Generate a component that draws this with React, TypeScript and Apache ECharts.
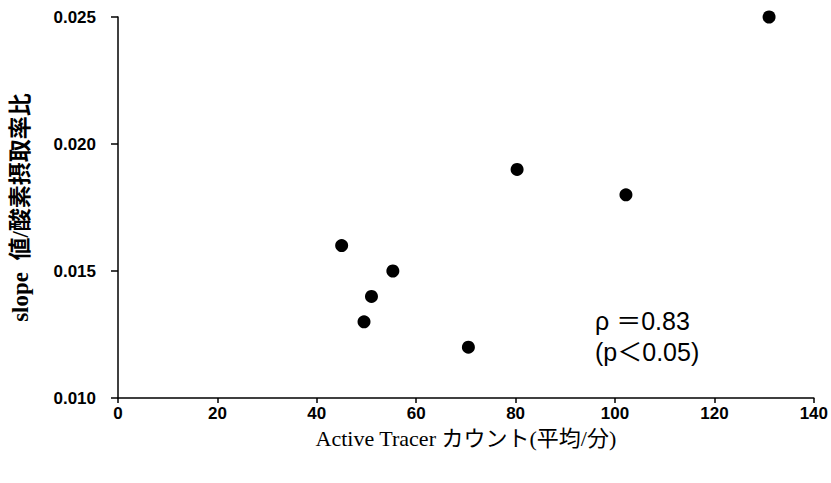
import React, { useEffect, useRef } from "react";
import * as echarts from "echarts";

const xValues = [45, 49.5, 51, 55.3, 70.5, 80.3, 102.2, 131];
const yValues = [0.016, 0.013, 0.014, 0.015, 0.012, 0.019, 0.018, 0.025];
const xTicks = [0, 20, 40, 60, 80, 100, 120, 140];
const yTicks = [0.01, 0.015, 0.02, 0.025];
const annotationLines = ["ρ ＝0.83", "(p＜0.05)"];

export default function App() {
  const ref = useRef<HTMLDivElement>(null);
  useEffect(() => {
    if (!ref.current) return;
    const chart = echarts.init(ref.current, undefined, { renderer: "svg" });
    const data = xValues.map((x, i) => [x, yValues[i]]);
    chart.setOption({
      animation: false,
      backgroundColor: "#ffffff",
      grid: { left: 118, right: 17, top: 17, bottom: 85 },
      xAxis: {
        type: "value",
        min: xTicks[0],
        max: xTicks[xTicks.length - 1],
        interval: 20,
        name: "Active Tracer カウント(平均/分)",
        nameLocation: "middle",
        nameGap: 29,
        nameTextStyle: {
          fontFamily: "'Liberation Serif', 'Noto Sans CJK JP', serif",
          fontSize: 22,
          color: "#000",
        },
        axisLine: { show: true, lineStyle: { color: "#000", width: 1.5 } },
        axisTick: { show: true, inside: false, length: 5, lineStyle: { color: "#000", width: 1.5 } },
        axisLabel: {
          margin: 7,
          color: "#000",
          fontSize: 17,
          fontWeight: "bold",
          fontFamily: "'Liberation Sans', Arial, sans-serif",
        },
        splitLine: { show: false },
      },
      yAxis: {
        type: "value",
        min: yTicks[0],
        max: yTicks[yTicks.length - 1],
        interval: 0.005,
        name: "slope  値/酸素摂取率比",
        nameLocation: "middle",
        nameRotate: 90,
        nameGap: 86,
        nameTextStyle: {
          fontFamily: "'Liberation Serif', 'Noto Sans CJK JP', serif",
          fontSize: 23,
          fontWeight: "bold",
          color: "#000",
        },
        axisLine: { show: true, lineStyle: { color: "#000", width: 1.5 } },
        axisTick: { show: true, inside: false, length: 7, lineStyle: { color: "#000", width: 1.5 } },
        axisLabel: {
          margin: 22,
          color: "#000",
          fontSize: 17,
          fontWeight: "bold",
          fontFamily: "'Liberation Sans', Arial, sans-serif",
          formatter: (v: number) => v.toFixed(3),
        },
        splitLine: { show: false },
      },
      series: [
        {
          type: "scatter",
          data,
          symbol: "circle",
          symbolSize: 13,
          itemStyle: { color: "#000", opacity: 1 },
        },
      ],
      graphic: [
        {
          type: "text",
          left: 595,
          top: 305,
          style: {
            text: annotationLines.join("\n"),
            fontSize: 25,
            lineHeight: 31,
            fontFamily: "'Liberation Sans', 'Noto Sans CJK JP', sans-serif",
            fill: "#000",
          },
        },
      ],
    });
    return () => chart.dispose();
  }, []);
  return (
    <div
      ref={ref}
      style={{ position: "absolute", left: 0, top: 0, width: 831, height: 483 }}
    />
  );
}
